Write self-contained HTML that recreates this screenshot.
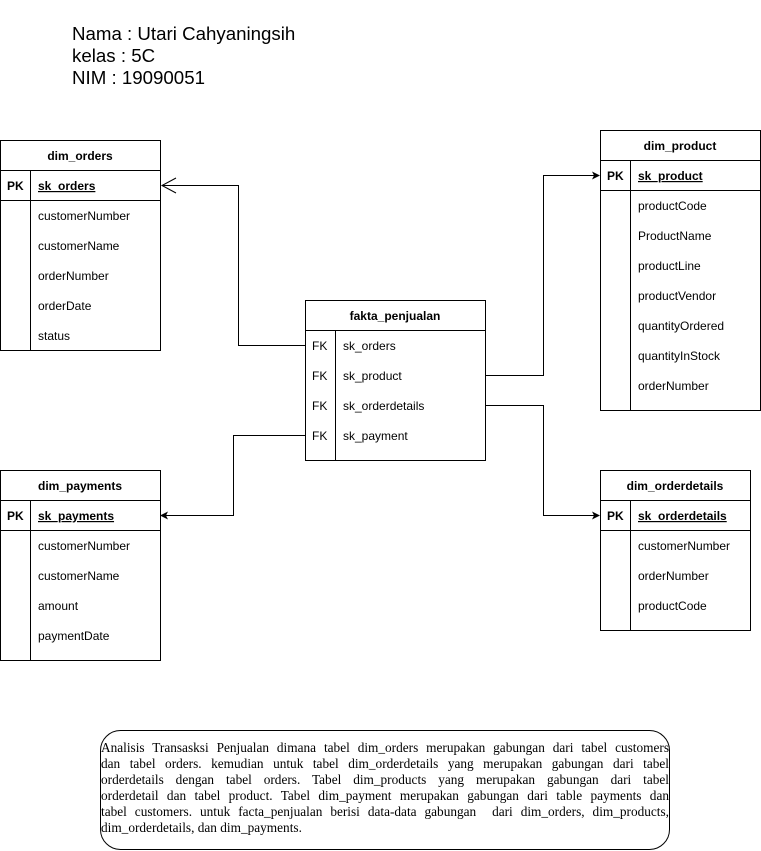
<!DOCTYPE html>
<html><head><meta charset="utf-8"><style>
html,body{margin:0;padding:0;background:#fff;}
svg{display:block;}
.t{font-family:"Liberation Sans",Arial,sans-serif;font-size:12px;fill:#000;}
.h{font-family:"Liberation Sans",Arial,sans-serif;font-size:18.7px;fill:#000;}
.desc{position:absolute;left:101px;top:740px;width:568px;font-family:"Liberation Serif","Times New Roman",serif;font-size:13.3px;line-height:16px;color:#000;white-space:nowrap;}
.desc div{text-align:justify;text-align-last:justify;}
.desc div.l{text-align-last:left;}
</style></head><body>
<div style="position:relative;width:761px;height:851px;overflow:hidden">
<svg width="761" height="851" viewBox="0 0 761 851" xmlns="http://www.w3.org/2000/svg">
<text class="h" x="72" y="40">Nama : Utari Cahyaningsih</text>
<text class="h" x="72" y="62">kelas : 5C</text>
<text class="h" x="72" y="84">NIM : 19090051</text>

<g fill="none" stroke="#000" stroke-width="1">
<rect x="0.5" y="140.5" width="160" height="210"/>
<line x1="0" y1="170.5" x2="160" y2="170.5"/>
<line x1="0" y1="200.5" x2="160" y2="200.5"/>
<line x1="30.5" y1="170" x2="30.5" y2="350"/>
<rect x="305.5" y="300.5" width="180" height="160"/>
<line x1="305" y1="330.5" x2="485" y2="330.5"/>
<line x1="335.5" y1="330" x2="335.5" y2="460"/>
<rect x="600.5" y="130.5" width="160" height="280"/>
<line x1="600" y1="160.5" x2="760" y2="160.5"/>
<line x1="600" y1="190.5" x2="760" y2="190.5"/>
<line x1="630.5" y1="160" x2="630.5" y2="410"/>
<rect x="0.5" y="470.5" width="160" height="190"/>
<line x1="0" y1="500.5" x2="160" y2="500.5"/>
<line x1="0" y1="530.5" x2="160" y2="530.5"/>
<line x1="30.5" y1="500" x2="30.5" y2="660"/>
<rect x="600.5" y="470.5" width="150" height="160"/>
<line x1="600" y1="500.5" x2="750" y2="500.5"/>
<line x1="600" y1="530.5" x2="750" y2="530.5"/>
<line x1="630.5" y1="500" x2="630.5" y2="630"/>
<polyline points="305,345.5 238.5,345.5 238.5,185.5 162,185.5"/>
<polyline points="176,178 162,185.5 176,193"/>
<polyline points="305,435.5 233.5,435.5 233.5,515.5 166,515.5"/>
<polyline points="485,375.5 543.5,375.5 543.5,175.5 594,175.5"/>
<polyline points="485,405.5 543.5,405.5 543.5,515.5 594,515.5"/>
<rect x="100.5" y="730.5" width="569" height="119" rx="20" ry="20"/>
</g>
<g fill="#000">
<polygon points="160,515.5 168,511.5 166,515.5 168,519.5"/>
<polygon points="600,175.5 592,171.5 594,175.5 592,179.5"/>
<polygon points="600,515.5 592,511.5 594,515.5 592,519.5"/>
</g>

<g class="t">
<text x="80" y="160" text-anchor="middle" font-weight="bold">dim_orders</text>
<text x="7" y="190" font-weight="bold">PK</text>
<text x="38" y="190" font-weight="bold" text-decoration="underline">sk_orders</text>
<text x="38" y="220">customerNumber</text>
<text x="38" y="250">customerName</text>
<text x="38" y="280">orderNumber</text>
<text x="38" y="310">orderDate</text>
<text x="38" y="340">status</text>

<text x="395" y="320" text-anchor="middle" font-weight="bold">fakta_penjualan</text>
<text x="312" y="350">FK</text><text x="343" y="350">sk_orders</text>
<text x="312" y="380">FK</text><text x="343" y="380">sk_product</text>
<text x="312" y="410">FK</text><text x="343" y="410">sk_orderdetails</text>
<text x="312" y="440">FK</text><text x="343" y="440">sk_payment</text>

<text x="680" y="150" text-anchor="middle" font-weight="bold">dim_product</text>
<text x="607" y="180" font-weight="bold">PK</text>
<text x="638" y="180" font-weight="bold" text-decoration="underline">sk_product</text>
<text x="638" y="210">productCode</text>
<text x="638" y="240">ProductName</text>
<text x="638" y="270">productLine</text>
<text x="638" y="300">productVendor</text>
<text x="638" y="330">quantityOrdered</text>
<text x="638" y="360">quantityInStock</text>
<text x="638" y="390">orderNumber</text>

<text x="80" y="490" text-anchor="middle" font-weight="bold">dim_payments</text>
<text x="7" y="520" font-weight="bold">PK</text>
<text x="38" y="520" font-weight="bold" text-decoration="underline">sk_payments</text>
<text x="38" y="550">customerNumber</text>
<text x="38" y="580">customerName</text>
<text x="38" y="610">amount</text>
<text x="38" y="640">paymentDate</text>

<text x="675" y="490" text-anchor="middle" font-weight="bold">dim_orderdetails</text>
<text x="607" y="520" font-weight="bold">PK</text>
<text x="638" y="520" font-weight="bold" text-decoration="underline">sk_orderdetails</text>
<text x="638" y="550">customerNumber</text>
<text x="638" y="580">orderNumber</text>
<text x="638" y="610">productCode</text>
</g>
</svg>
<div class="desc">
<div>Analisis Transasksi Penjualan dimana tabel dim_orders merupakan gabungan dari tabel customers</div>
<div>dan tabel orders. kemudian untuk tabel dim_orderdetails yang merupakan gabungan dari tabel</div>
<div>orderdetails dengan tabel orders. Tabel dim_products yang merupakan gabungan dari tabel</div>
<div>orderdetail dan tabel product. Tabel dim_payment merupakan gabungan dari table payments dan</div>
<div>tabel customers. untuk facta_penjualan berisi data-data gabungan&nbsp; dari dim_orders, dim_products,</div>
<div class="l">dim_orderdetails, dan dim_payments.</div>
</div>
</div>
</body></html>
